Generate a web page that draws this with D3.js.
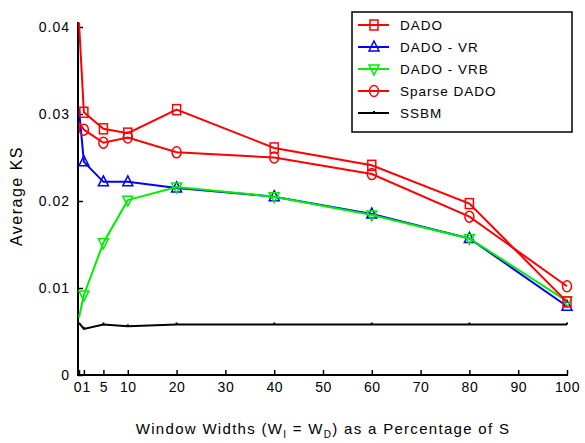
<!DOCTYPE html>
<html>
<head>
<meta charset="utf-8">
<script src="https://cdn.jsdelivr.net/npm/d3@7"></script>
<style>
  body { margin: 0; background: #fff; }
  svg text { font-family: Arial, "Liberation Sans", sans-serif; }
</style>
</head>
<body>
<svg id="chart" width="585" height="443"></svg>
<script>
// window widths (percentage of S)
const xValues = [0, 1, 5, 10, 20, 40, 60, 80, 100];
const xTickValues = [0, 1, 5, 10, 20, 30, 40, 50, 60, 70, 80, 90, 100];
const yTickValues = [0, 0.01, 0.02, 0.03, 0.04];

const dado = [0.0405, 0.0302, 0.0283, 0.0278, 0.0305, 0.0261, 0.0241, 0.0197, 0.0084];
const dadoVR = [0.0305, 0.0245, 0.0222, 0.0222, 0.0215, 0.0205, 0.0185, 0.0157, 0.0079];
const dadoVRB = [0.0066, 0.0092, 0.0152, 0.0201, 0.0216, 0.0205, 0.0184, 0.0157, 0.0085];
const sparseDado = [0.0290, 0.0282, 0.0267, 0.0273, 0.0256, 0.0250, 0.0231, 0.0182, 0.0102];
const ssbm = [0.0060, 0.0053, 0.0058, 0.0056, 0.0058, 0.0058, 0.0058, 0.0058, 0.0058];

const seriesNames = ['DADO', 'DADO - VR', 'DADO - VRB', 'Sparse DADO', 'SSBM'];

const svg = d3.select('#chart');

const x = d3.scaleLinear().domain([0, 100]).range([79, 567]);
const y = d3.scaleLinear().domain([0, 0.04]).range([375, 27]);

// axes: left and bottom only, ticks pointing inward
const xAxis = d3.axisTop(x).tickValues(xTickValues).tickSize(5).tickFormat(d3.format('d'));
const gx = svg.append('g').attr('transform', 'translate(0,375)').call(xAxis);
gx.select('.domain').attr('d', 'M77,0H568').attr('stroke', '#000').attr('stroke-width', 2);
gx.selectAll('.tick line').attr('stroke', '#000').attr('stroke-width', 1.5);
gx.selectAll('.tick text').attr('y', 17).attr('dy', 0)
  .attr('font-size', 14).attr('letter-spacing', 0.5).attr('fill', '#000');
// "0" and "1" sit almost on top of each other, as in the original
gx.selectAll('.tick text').filter(d => d === 0).attr('text-anchor', 'end').attr('x', 2.5);
gx.selectAll('.tick text').filter(d => d === 1).attr('text-anchor', 'start').attr('x', -2);

const yAxis = d3.axisRight(y).tickValues(yTickValues).tickSize(5)
  .tickFormat(d => d === 0 ? '0' : d3.format('.2f')(d));
const gy = svg.append('g').attr('transform', 'translate(78,0)').call(yAxis);
gy.select('.domain').attr('d', 'M0,376V22').attr('stroke', '#000').attr('stroke-width', 2);
gy.selectAll('.tick line').attr('stroke', '#000').attr('stroke-width', 1.5);
gy.selectAll('.tick text').attr('x', -8).attr('text-anchor', 'end')
  .attr('font-size', 14).attr('letter-spacing', 1).attr('fill', '#000');

// axis titles
svg.append('text')
  .attr('transform', 'translate(22,196) rotate(-90)')
  .attr('text-anchor', 'middle')
  .attr('font-size', 16)
  .attr('letter-spacing', 1.5)
  .text('Average KS');

const xt = svg.append('text')
  .attr('x', 323).attr('y', 434)
  .attr('text-anchor', 'middle')
  .attr('font-size', 15)
  .attr('letter-spacing', 1.3);
xt.append('tspan').text('Window Widths (W');
xt.append('tspan').attr('font-size', 10).attr('dy', 4).text('I');
xt.append('tspan').attr('dy', -4).text(' = W');
xt.append('tspan').attr('font-size', 10).attr('dy', 4).text('D');
xt.append('tspan').attr('dy', -4).text(') as a Percentage of S');

// marker drawing helpers
function drawMarker(g, type, cx, cy, color) {
  if (type === 'square') {
    g.append('rect').attr('x', cx - 4).attr('y', cy - 5).attr('width', 8).attr('height', 10)
      .attr('fill', 'none').attr('stroke', color).attr('stroke-width', 1.5);
  } else if (type === 'up') {
    g.append('path').attr('d', `M${cx},${cy - 6}L${cx + 5},${cy + 4}L${cx - 5},${cy + 4}Z`)
      .attr('fill', 'none').attr('stroke', color).attr('stroke-width', 1.5);
  } else if (type === 'down') {
    g.append('path').attr('d', `M${cx - 5},${cy - 4}L${cx + 5},${cy - 4}L${cx},${cy + 6}Z`)
      .attr('fill', 'none').attr('stroke', color).attr('stroke-width', 1.5);
  } else if (type === 'circle') {
    g.append('ellipse').attr('cx', cx).attr('cy', cy).attr('rx', 4.5).attr('ry', 5.5)
      .attr('fill', 'none').attr('stroke', color).attr('stroke-width', 1.5);
  } else if (type === 'dot') {
    g.append('rect').attr('x', cx - 1).attr('y', cy - 2).attr('width', 2).attr('height', 2)
      .attr('fill', color);
  }
}

const series = [
  { name: seriesNames[4], values: ssbm, color: '#000000', marker: 'dot' },
  { name: seriesNames[1], values: dadoVR, color: '#0000ff', marker: 'up' },
  { name: seriesNames[2], values: dadoVRB, color: '#00ee00', marker: 'down' },
  { name: seriesNames[3], values: sparseDado, color: '#ff0000', marker: 'circle' },
  { name: seriesNames[0], values: dado, color: '#ff0000', marker: 'square' }
];

const line = d3.line().x(d => x(d[0])).y(d => y(d[1]));

series.forEach(s => {
  const pts = xValues.map((v, i) => [v, s.values[i]]);
  const g = svg.append('g');
  g.append('path').datum(pts).attr('d', line)
    .attr('fill', 'none').attr('stroke', s.color).attr('stroke-width', 2);
  pts.slice(1).forEach(p => drawMarker(g, s.marker, x(p[0]), y(p[1]), s.color));
});

// legend
const legend = svg.append('g');
legend.append('rect').attr('x', 352).attr('y', 12).attr('width', 220).attr('height', 120)
  .attr('fill', '#fff').attr('stroke', '#000').attr('stroke-width', 1.5);

const legendOrder = [
  { name: seriesNames[0], color: '#ff0000', marker: 'square' },
  { name: seriesNames[1], color: '#0000ff', marker: 'up' },
  { name: seriesNames[2], color: '#00ee00', marker: 'down' },
  { name: seriesNames[3], color: '#ff0000', marker: 'circle' },
  { name: seriesNames[4], color: '#000000', marker: 'dot' }
];
legendOrder.forEach((s, i) => {
  const ly = 25 + i * 22;
  legend.append('line').attr('x1', 358).attr('x2', 389).attr('y1', ly).attr('y2', ly)
    .attr('stroke', s.color).attr('stroke-width', 2);
  drawMarker(legend, s.marker, 374, ly, s.color);
  legend.append('text').attr('x', 400).attr('y', ly + 5)
    .attr('font-size', 13.5).attr('letter-spacing', 1).text(s.name);
});
</script>
</body>
</html>
